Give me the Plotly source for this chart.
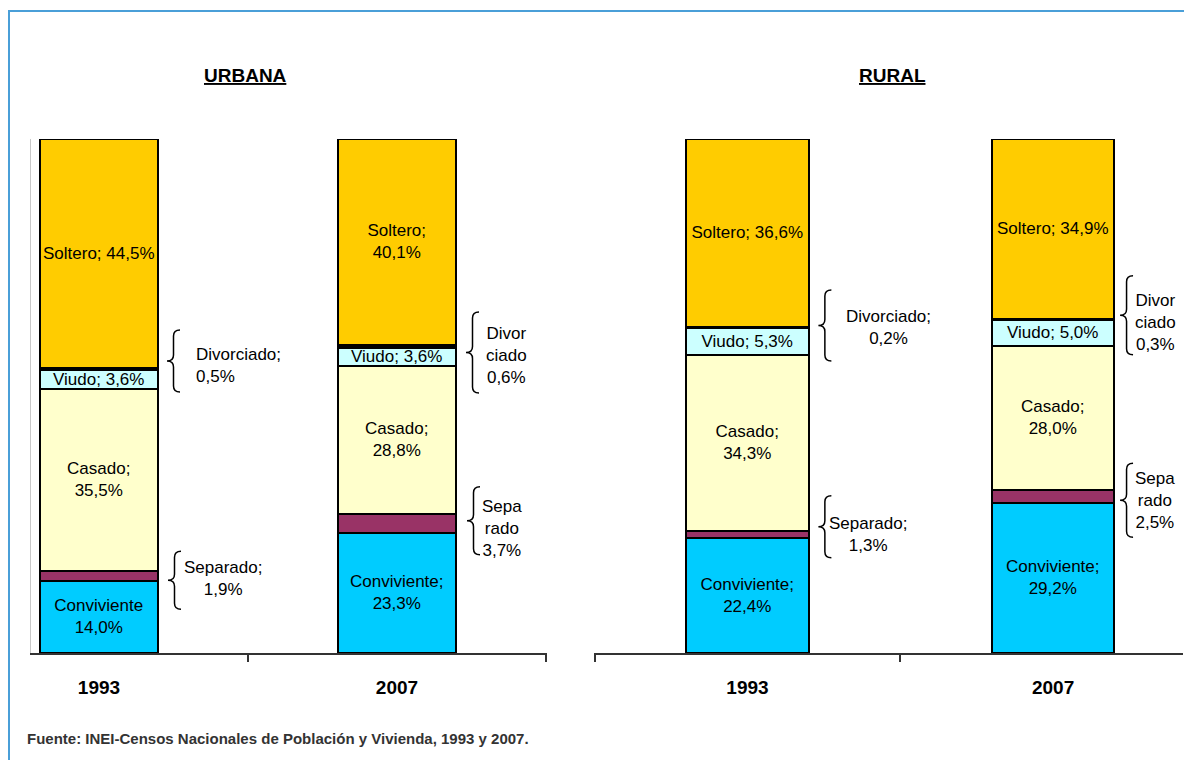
import plotly.graph_objects as go

# Distribución de la población por estado civil (%), área urbana y rural
years = ['1993', '2007']
categories = ['Conviviente', 'Separado', 'Casado', 'Viudo', 'Divorciado', 'Soltero']
colors = ['#00CCFF', '#993366', '#FFFFCC', '#CCFFFF', '#000000', '#FFCC00']

urbana_1993 = [14.0, 1.9, 35.5, 3.6, 0.5, 44.5]
urbana_2007 = [23.3, 3.7, 28.8, 3.6, 0.6, 40.1]
rural_1993 = [22.4, 1.3, 34.3, 5.3, 0.2, 36.6]
rural_2007 = [29.2, 2.5, 28.0, 5.0, 0.3, 34.9]

# separador entre nombre y valor dentro de la barra ('' = etiqueta fuera de la barra)
urbana_sep_1993 = ['<br>', '', ';<br>', '; ', '', '; ']
urbana_sep_2007 = [';<br>', '', ';<br>', '; ', '', ';<br>']
rural_sep_1993 = [';<br>', '', ';<br>', '; ', '', '; ']
rural_sep_2007 = [';<br>', '', ';<br>', '; ', '', '; ']

outside_names_1993 = {'Separado': 'Separado;', 'Divorciado': 'Divorciado;'}
outside_names_2007 = {'Separado': 'Sepa<br>rado', 'Divorciado': 'Divor<br>ciado'}

source = 'Fuente: INEI-Censos Nacionales de Población y Vivienda, 1993 y 2007.'

W, H = 1184, 760
FONT = 'Liberation Sans, Arial, sans-serif'
NARROW = 'Liberation Sans Narrow, Arial Narrow, Liberation Sans, sans-serif'
PX_Y = 100 / 514           # % por pixel vertical
PX_X = {'u': 1 / 298, 'r': 1 / 306}


def fmt(v):
    return f'{v:.1f}'.replace('.', ',') + '%'


def px_to_paper_y(py):
    return 1 - py / H


regions = {
    'u': dict(xa='x', ya='y', values=[urbana_1993, urbana_2007], seps=[urbana_sep_1993, urbana_sep_2007]),
    'r': dict(xa='x2', ya='y2', values=[rural_1993, rural_2007], seps=[rural_sep_1993, rural_sep_2007]),
}

fig = go.Figure()

for key, reg in regions.items():
    for i, cat in enumerate(categories):
        vals = [reg['values'][j][i] for j in range(2)]
        texts = []
        for j in range(2):
            sep = reg['seps'][j][i]
            texts.append(cat + sep + fmt(vals[j]) if sep else '')
        fig.add_trace(go.Bar(
            x=[0, 1], y=vals, name=cat,
            xaxis=reg['xa'], yaxis=reg['ya'],
            width=0.4 if key == 'r' else 0.396,
            marker=dict(color=colors[i], line=dict(color='black', width=2.5)),
            text=texts, textposition='inside', insidetextanchor='middle',
            textangle=0, constraintext='none',
            textfont=dict(family=FONT, size=17, color='black'),
            hoverinfo='skip', showlegend=False,
        ))


def seg_mid(values, cat):
    total = sum(values)
    i = categories.index(cat)
    return (sum(values[:i]) + values[i] / 2) / total * 100


def brace_path(x0, yc, w, h, r):
    xm = x0 + w / 2
    top, bot = yc + h / 2, yc - h / 2
    return (f'M {x0 + w},{top} Q {xm},{top} {xm},{top - r} '
            f'L {xm},{yc + r} Q {xm},{yc} {x0},{yc} '
            f'Q {xm},{yc} {xm},{yc - r} L {xm},{bot + r} '
            f'Q {xm},{bot} {x0 + w},{bot}')


# region, año, categoría, texto dx/dy (px), anclaje, llave x0 (px), alto (px), dy (px)
ann_specs = [
    ('u', 0, 'Divorciado', 95, -4, 'left', 68, 62, -8),
    ('u', 0, 'Separado', 124, 2, 'center', 69, 58, 4),
    ('u', 1, 'Divorciado', 109, 9, 'center', 69, 81, 6),
    ('u', 1, 'Separado', 105, 5, 'center', 70, 68, -3),
    ('r', 0, 'Divorciado', 141, 0, 'center', 71, 71, -2),
    ('r', 0, 'Separado', 121, 0, 'center', 71, 62, -8),
    ('r', 1, 'Divorciado', 102, 3, 'center', 67, 79, -4),
    ('r', 1, 'Separado', 102, 4, 'center', 67, 74, 4),
]

annotations = []
shapes = []
for key, j, cat, tdx, tdy, anchor, bx, bh, bdy in ann_specs:
    reg = regions[key]
    vals = reg['values'][j]
    ym = seg_mid(vals, cat)
    names = outside_names_1993 if j == 0 else outside_names_2007
    annotations.append(dict(
        x=j + tdx * PX_X[key], y=ym - tdy * PX_Y, xref=reg['xa'], yref=reg['ya'],
        text=names[cat] + '<br>' + fmt(vals[categories.index(cat)]),
        showarrow=False, xanchor=anchor, yanchor='middle', align=anchor,
        font=dict(family=FONT, size=17, color='black'),
    ))
    shapes.append(dict(
        type='path', xref=reg['xa'], yref=reg['ya'],
        path=brace_path(j + bx * PX_X[key], ym - bdy * PX_Y, 13 * PX_X[key], bh * PX_Y, 6 * PX_Y),
        line=dict(color='black', width=1.5),
    ))

# marco exterior
shapes.append(dict(type='rect', xref='paper', yref='paper',
                   x0=9 / W, x1=1.02, y0=-0.02, y1=px_to_paper_y(11),
                   line=dict(color='#4A9FD8', width=2)))

for txt, cx in [('URBANA', 245), ('RURAL', 892)]:
    annotations.append(dict(
        x=cx / W, y=px_to_paper_y(76), xref='paper', yref='paper',
        text=f'<b><u>{txt}</u></b>', showarrow=False,
        xanchor='center', yanchor='middle',
        font=dict(family=FONT, size=19, color='black'),
    ))

annotations.append(dict(
    x=25 / W, y=px_to_paper_y(738), xref='paper', yref='paper',
    text=f'<b>{source}</b>', showarrow=False, xanchor='left', yanchor='middle',
    font=dict(family=NARROW, size=15, color='#333333'),
))

y_dom = [px_to_paper_y(653), px_to_paper_y(139)]
xaxis_common = dict(
    tickvals=[0, 1], ticktext=years, ticks='', showgrid=False, zeroline=False,
    showline=True, linecolor='#333333', linewidth=1.5,
    tickfont=dict(family=FONT, size=19, color='black', weight='bold'),
    ticklabelstandoff=16, fixedrange=True,
)
yaxis_common = dict(range=[0, 100], showticklabels=False, showgrid=False,
                    zeroline=False, ticks='', fixedrange=True)

fig.update_layout(
    width=W, height=H,
    margin=dict(l=0, r=0, t=0, b=0),
    paper_bgcolor='white', plot_bgcolor='white',
    barmode='stack', barnorm='percent', bargap=0,
    xaxis=dict(domain=[31 / W, 547 / W], range=[-68 / 298, 448 / 298], anchor='y',
               minor=dict(tickvals=[0.5, 1.5], ticks='outside', ticklen=7,
                          tickcolor='#333333', tickwidth=1.5),
               **xaxis_common),
    yaxis=dict(domain=y_dom, anchor='x', showline=True, linecolor='#C8C8C8', linewidth=1,
               **yaxis_common),
    xaxis2=dict(domain=[594 / W, 1183 / W], range=[-0.502, 436 / 306], anchor='y2',
                minor=dict(tickvals=[-0.5, 0.5], ticks='outside', ticklen=7,
                           tickcolor='#333333', tickwidth=1.5),
                **xaxis_common),
    yaxis2=dict(domain=y_dom, anchor='x2', showline=False, **yaxis_common),
    annotations=annotations,
    shapes=shapes,
)

# la página por defecto deja 8px de margen en el body
fig.write_html('out.html', config={'displayModeBar': False},
               post_script="document.body.style.margin='0px';")
